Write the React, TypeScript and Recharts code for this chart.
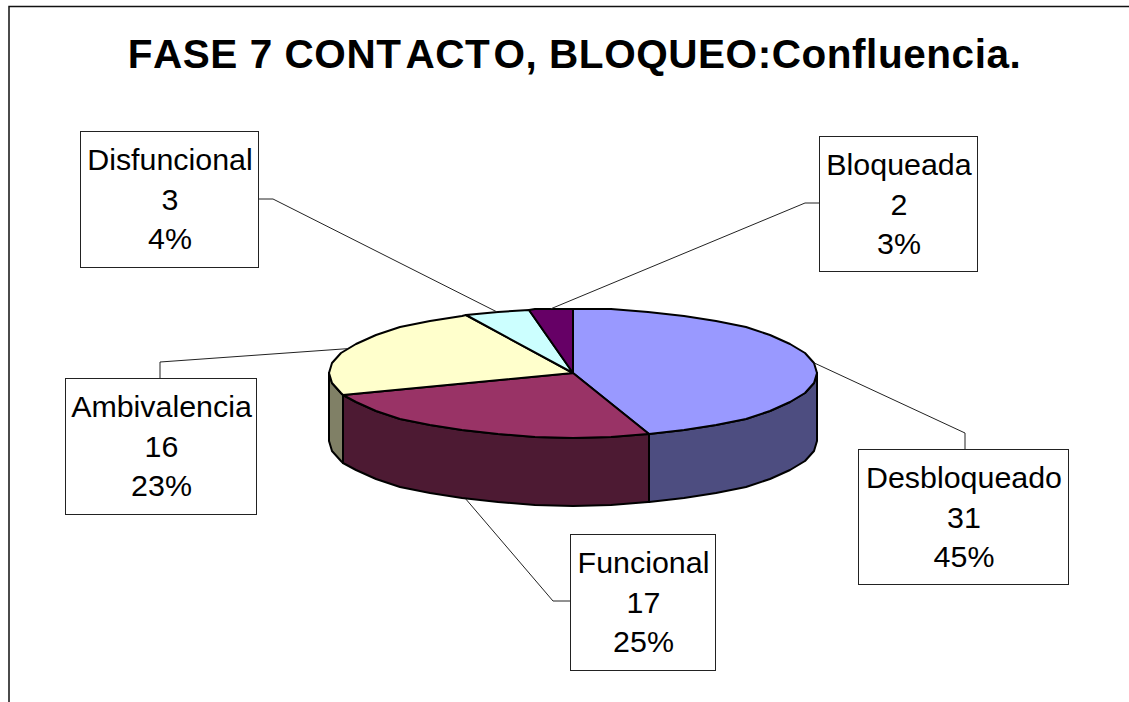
import React from "react";
import { PieChart, Pie, Cell } from "recharts";

const categories = ["Desbloqueado", "Funcional", "Ambivalencia", "Disfuncional", "Bloqueada"];
const seriesValues = [31, 17, 16, 3, 2];
const topColors = ["#9999FF", "#993366", "#FFFFCC", "#CCFFFF", "#660066"];
const sideColors = ["#4D4D80", "#4D1A33", "#808066", "#668080", "#330033"];
const titleParts = ["FASE 7 CONT", "ACT", "O, BLOQUEO:Confluencia."];

const WIDTH = 1129;
const HEIGHT = 702;
const CX = 573;
const CY = 373;
const RX = 244;
const RY = 64.5;
const DEPTH = 68;
const FACET = 9;

// label box: x, y, w, h; attach point on the box; elbow of the leader line
const labelLayouts = [
  { x: 858, y: 449, w: 210, h: 135, ax: 965, ay: 449, ex: 965, ey: 433 },
  { x: 570, y: 534, w: 145, h: 136, ax: 570, ay: 601, ex: 553, ey: 601 },
  { x: 65, y: 378, w: 191, h: 136, ax: 160, ay: 378, ex: 160, ey: 362 },
  { x: 80, y: 131, w: 178, h: 136, ax: 258, ay: 199, ex: 273, ey: 199 },
  { x: 819, y: 136, w: 158, h: 135, ax: 819, ay: 203, ex: 805, ey: 203 },
];

const data = categories.map((name, i) => ({ name, value: seriesValues[i] }));
const rad = (d: number) => (d * Math.PI) / 180;
const ratio = RY / RX;

function rimPoints(cx: number, cy: number, r: number, from: number, to: number) {
  // from > to: walk clockwise; facets sit on a fixed grid so the rim looks polygonal
  const angles = [from];
  let a = Math.floor((from - 1e-6) / FACET) * FACET;
  while (a > to + 1e-6) {
    angles.push(a);
    a -= FACET;
  }
  angles.push(to);
  return angles.map((d) => [Math.round(cx + r * Math.cos(rad(d))), Math.round(cy - r * ratio * Math.sin(rad(d)))]);
}

const toPath = (pts: number[][]) => pts.map((p, i) => `${i ? "L" : "M"}${p[0]},${p[1]}`).join("");

function Sector3D(props: any) {
  const { cx, cy, outerRadius, startAngle, endAngle, index } = props;
  const rim = rimPoints(cx, cy, outerRadius, startAngle, endAngle);
  const top = `M${cx},${cy}` + toPath(rim).replace(/^M/, "L") + "Z";
  // visible side wall: the part of the sector in the front half
  const hi = Math.min(startAngle, 0);
  const lo = Math.max(endAngle, -180);
  let side = "";
  if (hi > lo) {
    const front = rimPoints(cx, cy, outerRadius, hi, lo);
    const lower = front.map((p) => [p[0], p[1] + DEPTH]).reverse();
    side = toPath(front) + toPath(lower).replace(/^M/, "L") + "Z";
  }
  return (
    <g>
      {side && <path d={side} fill={sideColors[index]} stroke="#000" strokeWidth={2} strokeLinejoin="round" />}
      <path d={top} fill={topColors[index]} stroke="#000" strokeWidth={2} strokeLinejoin="round" />
    </g>
  );
}

function DataLabel(props: any) {
  const { index, midAngle, cx, cy, outerRadius, name, value, percent } = props;
  const b = labelLayouts[index];
  const s = Math.sin(rad(midAngle));
  const px = cx + outerRadius * Math.cos(rad(midAngle));
  const py = cy - outerRadius * ratio * s + (s < 0 ? DEPTH : 0);
  const lines = [name, String(value), `${Math.round(percent * 100)}%`];
  return (
    <g>
      <path d={`M${b.ax},${b.ay}L${b.ex},${b.ey}L${px.toFixed(1)},${py.toFixed(1)}`} fill="none" stroke="#222" strokeWidth={1} />
      <rect x={b.x + 0.5} y={b.y + 0.5} width={b.w} height={b.h} fill="#fff" stroke="#222" strokeWidth={1} />
      {lines.map((t, i) => (
        <text
          key={i}
          x={b.x + b.w / 2 + 1}
          y={b.y + 39 + i * 39.5}
          textAnchor="middle"
          fontFamily="'Liberation Sans', Arial, sans-serif"
          fontSize={30.4}
          fill="#000"
        >
          {t}
        </text>
      ))}
    </g>
  );
}

export default function App() {
  return (
    <div style={{ position: "absolute", left: 0, top: 0, width: WIDTH, height: HEIGHT, background: "#fff", overflow: "hidden" }}>
      <PieChart width={WIDTH} height={HEIGHT} margin={{ top: 0, right: 0, bottom: 0, left: 0 }}>
        <path d={`M${WIDTH},6.5H9V${HEIGHT}`} fill="none" stroke="#111" strokeWidth={1.5} />
        <text
          x={574.5}
          y={68}
          textAnchor="middle"
          fontFamily="'Liberation Sans', Arial, sans-serif"
          fontWeight="bold"
          fontSize={40.5}
          letterSpacing={0.55}
          style={{ fontKerning: "none" }}
          fill="#000"
        >
          <tspan>{titleParts[0]}</tspan>
          <tspan dx={4}>{titleParts[1]}</tspan>
          <tspan dx={3}>{titleParts[2]}</tspan>
        </text>
        <Pie
          data={data}
          dataKey="value"
          nameKey="name"
          cx={CX}
          cy={CY}
          outerRadius={RX}
          startAngle={90}
          endAngle={-270}
          stroke="#000"
          isAnimationActive={false}
          shape={Sector3D}
          label={DataLabel}
          labelLine={false}
        >
          {data.map((d, i) => (
            <Cell key={d.name} fill={topColors[i]} />
          ))}
        </Pie>
      </PieChart>
    </div>
  );
}
